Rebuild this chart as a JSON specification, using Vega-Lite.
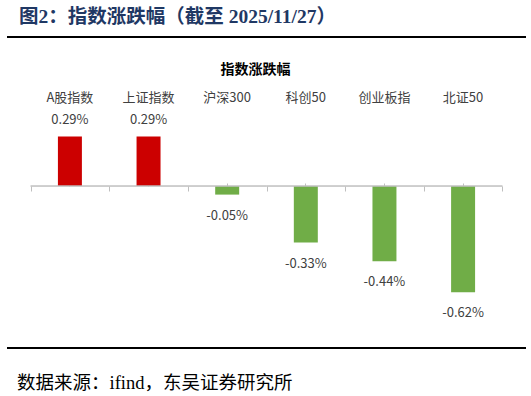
{
  "$schema": "https://vega.github.io/schema/vega-lite/v6.json",
  "background": "white",
  "padding": {"left": 6, "top": 6, "right": 6, "bottom": 0},
  "config": {
    "view": {"stroke": null},
    "locale": {"number": {"decimal": ".", "thousands": ",", "grouping": [3], "currency": ["", ""], "minus": "-"}}
  },
  "datasets": {
    "idx": [
      {"name": "A股指数", "value": 0.0029},
      {"name": "上证指数", "value": 0.0029},
      {"name": "沪深300", "value": -0.0005},
      {"name": "科创50", "value": -0.0033},
      {"name": "创业板指", "value": -0.0044},
      {"name": "北证50", "value": -0.0062}
    ]
  },
  "spacing": 24,
  "vconcat": [
    {
      "width": 519,
      "height": 1,
      "title": {"text": "图2：指数涨跌幅（截至 2025/11/27）", "anchor": "start", "dx": 13, "offset": 9, "font": "Liberation Serif, Noto Sans CJK SC", "fontSize": 19.5, "fontWeight": "bold", "color": "#1F3864"},
      "data": {"values": [{"k": 0}]},
      "mark": {"type": "rule", "color": "black", "strokeWidth": 2},
      "encoding": {"y": {"field": "k", "type": "quantitative", "scale": {"domain": [0, 1]}, "axis": null}}
    },
    {
      "width": 519,
      "height": 214,
      "data": {"name": "idx"},
      "resolve": {"axis": {"x": "independent"}},
      "layer": [
        {
          "mark": {"type": "bar", "width": {"band": 0.305}},
          "encoding": {
            "x": {"field": "name", "type": "nominal", "sort": null, "scale": {"paddingInner": 0, "paddingOuter": 0.3},
              "axis": {"orient": "top", "domain": false, "ticks": false, "tickSize": 0, "labelPadding": 5, "labelFont": "Noto Sans CJK SC", "labelFontSize": 13, "labelColor": "#404040", "labelAngle": 0,
                "title": "指数涨跌幅", "titleFont": "Noto Sans CJK SC", "titleFontSize": 14, "titleFontWeight": "bold", "titleColor": "#000000", "titlePadding": 15, "titleX": 248}},
            "y": {"field": "value", "type": "quantitative", "scale": {"domain": [-0.008, 0.0045], "nice": false}, "axis": null},
            "color": {"condition": {"test": "datum.value > 0", "value": "#CC0000"}, "value": "#70AD47"}
          }
        },
        {
          "mark": {"type": "bar", "width": {"band": 1}, "fillOpacity": 0, "stroke": "#BFBFBF", "strokeWidth": 1},
          "encoding": {
            "x": {"field": "name", "type": "nominal", "sort": null,
              "axis": {"orient": "bottom", "offset": -137, "domain": false, "labels": false, "ticks": true, "tickBand": "extent", "tickSize": 5, "tickColor": "#BFBFBF", "title": null, "grid": false}},
            "y": {"datum": 0, "type": "quantitative"},
            "y2": {"datum": 0}
          }
        },
        {
          "transform": [{"filter": "datum.value > 0"}],
          "mark": {"type": "text", "dy": -16, "baseline": "middle", "font": "Noto Sans CJK SC", "fontSize": 13, "color": "#404040"},
          "encoding": {
            "x": {"field": "name", "type": "nominal", "sort": null,
              "axis": {"orient": "bottom", "offset": -137, "domain": false, "labels": false, "ticks": true, "tickBand": "center", "tickSize": -3, "tickColor": "#BFBFBF", "title": null, "grid": false}},
            "y": {"field": "value", "type": "quantitative"},
            "text": {"field": "value", "type": "quantitative", "format": ".2%"}
          }
        },
        {
          "transform": [{"filter": "datum.value < 0"}],
          "mark": {"type": "text", "dy": 21, "baseline": "middle", "font": "Noto Sans CJK SC", "fontSize": 13, "color": "#404040"},
          "encoding": {
            "x": {"field": "name", "type": "nominal", "sort": null, "axis": null},
            "y": {"field": "value", "type": "quantitative"},
            "text": {"field": "value", "type": "quantitative", "format": ".2%"}
          }
        }
      ]
    },
    {
      "width": 519,
      "height": 1,
      "title": {"text": "数据来源：ifind，东吴证券研究所", "orient": "bottom", "anchor": "start", "dx": 11, "offset": 25, "font": "Liberation Serif, Noto Sans CJK SC", "fontSize": 18.5, "fontWeight": "normal", "color": "#000000"},
      "data": {"values": [{"k": 0}]},
      "mark": {"type": "rule", "color": "black", "strokeWidth": 2},
      "encoding": {"y": {"field": "k", "type": "quantitative", "scale": {"domain": [0, 1]}, "axis": null}}
    }
  ]
}
